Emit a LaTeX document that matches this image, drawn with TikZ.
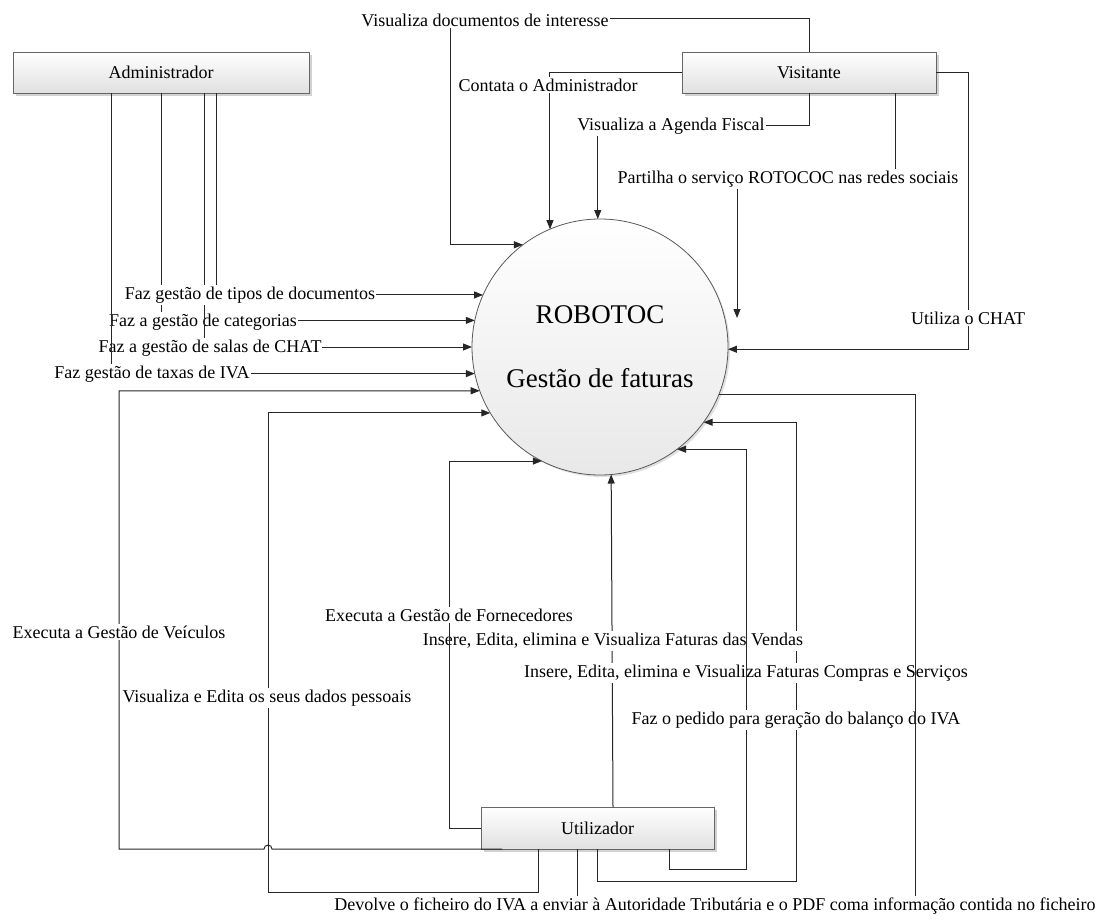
\documentclass[tikz,border=0pt]{standalone}
\usepackage{fontspec}
\setmainfont{Liberation Serif}
\usetikzlibrary{arrows.meta,shadows}
\begin{document}
\begin{tikzpicture}[x=1pt,y=-1pt,
  lbl/.style={font=\fontsize{18}{21}\selectfont, fill=white, inner xsep=1pt, inner ysep=2pt},
  ent/.style={draw=black!60, line width=0.8pt, top color=white, bottom color=black!12,
    inner sep=0pt, outer sep=0pt, minimum height=41, font=\fontsize{18}{21}\selectfont,
    drop shadow={shadow xshift=3pt, shadow yshift=-3pt, fill=black!18, opacity=1}},
  proc/.style={circle, draw=black!65, line width=0.8pt, top color=white, bottom color=black!9,
    minimum size=256, inner sep=0pt, outer sep=0pt, align=center,
    font=\fontsize{27}{64}\selectfont,
    drop shadow={shadow xshift=2pt, shadow yshift=-2pt, fill=black!12, opacity=1}},
  flow/.style={line width=1pt, draw=black!85},
  arr/.style={flow, -{Triangle[length=9pt,width=7pt]}},
]
\useasboundingbox (0,0) rectangle (1100,920);

% entities and process
\node[ent, minimum width=296] (adm) at (161,72.5) {Administrador};
\node[ent, minimum width=254] (vis) at (809,72.5) {Visitante};
\node[ent, minimum width=233, minimum height=42] (uti) at (597.5,828) {Utilizador};
\node[proc] (sys) at (600,347) {ROBOTOC\\Gestão de faturas};

% Administrador flows
\draw[arr] (adm.south) |- (sys.168.7);
\node[lbl] (la2) at (203,322) {Faz a gestão de categorias};
\draw[arr] ([xshift=43]adm.south) |- (sys.180.4);
\node[lbl] (la3) at (210,348) {Faz a gestão de salas de CHAT};
\draw[arr] ([xshift=-50]adm.south) |- (sys.192.2);
\node[lbl] (la4) at (152,374) {Faz gestão de taxas de IVA};
\draw[arr] ([xshift=55]adm.south) |- (sys.156);
\node[lbl] (la1) at (250,295) {Faz gestão de tipos de documentos};

% Visitante flows
\coordinate (v1) at (450,19);
\draw[arr] (vis.north) |- (v1) |- (sys.127.2);
\node[lbl] (lv1) at (485,20) {Visualiza documentos de interesse};
\draw[arr] (vis.west) -| (sys.113.5);
\node[lbl] (lv2) at (548,85) {Contata o Administrador};
\draw[arr] (vis.south) -- ++(0,33) -| (sys.91.3);
\node[lbl] (lv3) at (671,126) {Visualiza a Agenda Fiscal};
\coordinate (partend) at (737,318);
\draw[arr] ([xshift=86]vis.south) -- ++(0,86) -| (partend);
\node[lbl] (lv4) at (788,179) {Partilha o serviço ROTOCOC nas redes sociais};
\draw[arr] (vis.east) -- ++(32,0) |- (sys.359.6);
\node[lbl] (lv5) at (968,318) {Utiliza o CHAT};

% Utilizador flows
\draw[arr] ([xshift=15.5]uti.north) -- (sys.275.8);
\draw[arr] (uti.south) -- ++(0,32) -- ++(198.5,0) |- (sys.324.1);
\node[lbl] (lu4) at (613,641) {Insere, Edita, elimina e Visualiza Faturas das Vendas};
\node[lbl] (lu5) at (746,673) {Insere, Edita, elimina e Visualiza Faturas Compras e Serviços};
\draw[arr] ([xshift=71.5]uti.south) -- ++(0,20) -- ++(77,0) |- (sys.307.9);
\draw[arr] (uti.west) -- ++(-32,0) |- (sys.243.9);
\node[lbl] (lu6) at (796,720) {Faz o pedido para geração do balanço do IVA};
\node[lbl] (lu3) at (449,615) {Executa a Gestão de Fornecedores};
\draw[flow] (sys.338) -| (915,906) -| ([xshift=-20.5]uti.south);
\node[lbl] (lu7) at (715,906) {Devolve o ficheiro do IVA a enviar à Autoridade Tributária e o PDF coma informação contida no ficheiro};
\draw[arr] ([xshift=-95.5]uti.south) -- (272,849) arc[start angle=0,end angle=180,radius=4pt] -- (119,849) |- (sys.200.1);
\node[lbl] (lu1) at (119,632) {Executa a Gestão de Veículos};
\draw[arr] ([xshift=-59.5]uti.south) -- ++(0,43) -- (268,892) |- (sys.211.6);
\node[lbl] (lu2) at (267,698) {Visualiza e Edita os seus dados pessoais};
\end{tikzpicture}
\end{document}
